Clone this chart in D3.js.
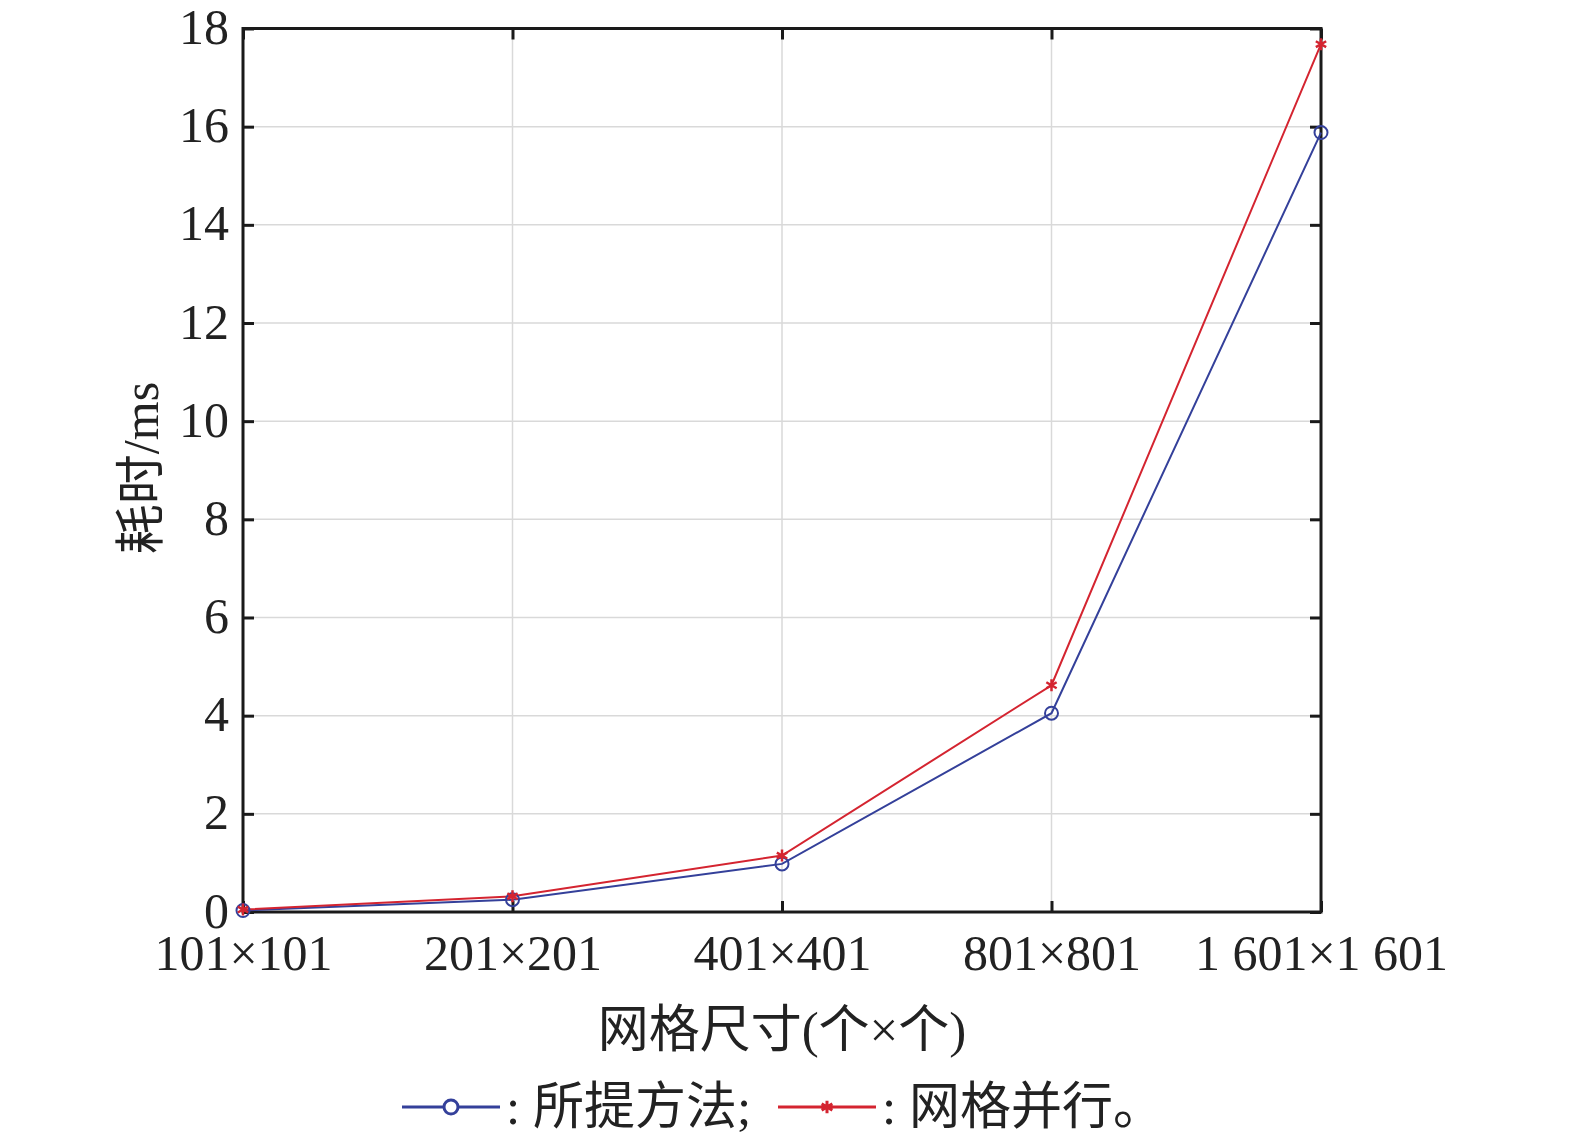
<!DOCTYPE html>
<html>
<head>
<meta charset="utf-8">
<script src="https://d3js.org/d3.v7.min.js"></script>
<style>
 body { margin: 0; background: #fff; }
 svg { display: block; }
 text { font-family: "Liberation Serif", "Noto Sans CJK SC", serif; fill: #222; }
</style>
</head>
<body>
<svg width="1575" height="1142"></svg>
<script>
const categories = ["101×101", "201×201", "401×401", "801×801", "1 601×1 601"];
const proposed = [0.03, 0.25, 0.98, 4.05, 15.88];   // 所提方法
const gridPar  = [0.05, 0.32, 1.15, 4.62, 17.68];   // 网格并行
const yTicks   = [0, 2, 4, 6, 8, 10, 12, 14, 16, 18];

const svg = d3.select("svg");
const plotL = 243, plotR = 1321, plotT = 28.5, plotB = 912;

const x = d3.scalePoint().domain(categories).range([plotL, plotR]);
const y = d3.scaleLinear().domain([0, 18]).range([plotB, plotT]);

const blue = "#34409a", red = "#d42430";

// grid
svg.append("g").selectAll("line").data(yTicks.slice(1, -1)).join("line")
   .attr("x1", plotL).attr("x2", plotR)
   .attr("y1", d => y(d)).attr("y2", d => y(d))
   .attr("stroke", "#d9d9d9").attr("stroke-width", 1.5);
svg.append("g").selectAll("line").data(categories.slice(1, -1)).join("line")
   .attr("x1", d => x(d)).attr("x2", d => x(d))
   .attr("y1", plotT).attr("y2", plotB)
   .attr("stroke", "#d9d9d9").attr("stroke-width", 1.5);

// inward ticks on all four sides
const tk = 11;
const gl = svg.append("g").attr("transform", `translate(${plotL},0)`)
   .call(d3.axisLeft(y).tickValues(yTicks).tickSize(-tk).tickPadding(14).tickFormat(d3.format("d")));
gl.select(".domain").remove();
gl.selectAll("line").attr("stroke", "#1a1a1a").attr("stroke-width", 3);
gl.selectAll("text").attr("font-size", 50).attr("font-family", "Liberation Serif").attr("fill", "#222").attr("dy", "0.3em");

const gr = svg.append("g").attr("transform", `translate(${plotR},0)`)
   .call(d3.axisRight(y).tickValues(yTicks).tickSize(-tk).tickFormat(""));
gr.select(".domain").remove();
gr.selectAll("line").attr("stroke", "#1a1a1a").attr("stroke-width", 3);

const gb = svg.append("g").attr("transform", `translate(0,${plotB})`)
   .call(d3.axisBottom(x).tickSize(-tk).tickPadding(22));
gb.select(".domain").remove();
gb.selectAll("line").attr("stroke", "#1a1a1a").attr("stroke-width", 3);
gb.selectAll("text").attr("font-size", 50).attr("font-family", "Liberation Serif").attr("fill", "#222").attr("dy", "0.71em");

const gt = svg.append("g").attr("transform", `translate(0,${plotT})`)
   .call(d3.axisTop(x).tickSize(-tk).tickFormat(""));
gt.select(".domain").remove();
gt.selectAll("line").attr("stroke", "#1a1a1a").attr("stroke-width", 3);

// frame
svg.append("rect").attr("x", plotL).attr("y", plotT)
   .attr("width", plotR - plotL).attr("height", plotB - plotT)
   .attr("fill", "none").attr("stroke", "#1a1a1a").attr("stroke-width", 3);

// series
const line = d3.line().x((d, i) => x(categories[i])).y(d => y(d));
svg.append("path").datum(proposed).attr("d", line)
   .attr("fill", "none").attr("stroke", blue).attr("stroke-width", 2);
svg.append("path").datum(gridPar).attr("d", line)
   .attr("fill", "none").attr("stroke", red).attr("stroke-width", 2);

svg.append("g").selectAll("circle").data(proposed).join("circle")
   .attr("cx", (d, i) => x(categories[i])).attr("cy", d => y(d)).attr("r", 6.5)
   .attr("fill", "none").attr("stroke", blue).attr("stroke-width", 2);

const star = d3.symbol().type(d3.symbolAsterisk).size(100);
svg.append("g").selectAll("path").data(gridPar).join("path")
   .attr("transform", (d, i) => `translate(${x(categories[i])},${y(d)})`)
   .attr("d", star).attr("fill", "none").attr("stroke", red).attr("stroke-width", 2.5);

// axis titles
svg.append("text")
   .attr("transform", "translate(158,468) rotate(-90)")
   .attr("text-anchor", "middle")
   .attr("font-size", 50)
   .text("耗时/ms");

svg.append("text")
   .attr("x", 782).attr("y", 1047)
   .attr("text-anchor", "middle")
   .attr("font-size", 51)
   .text("网格尺寸(个×个)");

// legend
const ly = 1107;
const leg = svg.append("g");
leg.append("line").attr("x1", 402).attr("x2", 500).attr("y1", ly).attr("y2", ly)
   .attr("stroke", blue).attr("stroke-width", 3);
leg.append("circle").attr("cx", 451).attr("cy", ly).attr("r", 7)
   .attr("fill", "#fff").attr("stroke", blue).attr("stroke-width", 3);
leg.append("text").attr("x", 506).attr("y", ly + 17).attr("font-size", 51).text(": 所提方法;");
leg.append("line").attr("x1", 778).attr("x2", 876).attr("y1", ly).attr("y2", ly)
   .attr("stroke", red).attr("stroke-width", 3);
leg.append("path").attr("transform", `translate(827,${ly})`)
   .attr("d", d3.symbol().type(d3.symbolAsterisk).size(110))
   .attr("fill", "none").attr("stroke", red).attr("stroke-width", 3);
leg.append("text").attr("x", 882).attr("y", ly + 17).attr("font-size", 51).text(": 网格并行。");
</script>
</body>
</html>
